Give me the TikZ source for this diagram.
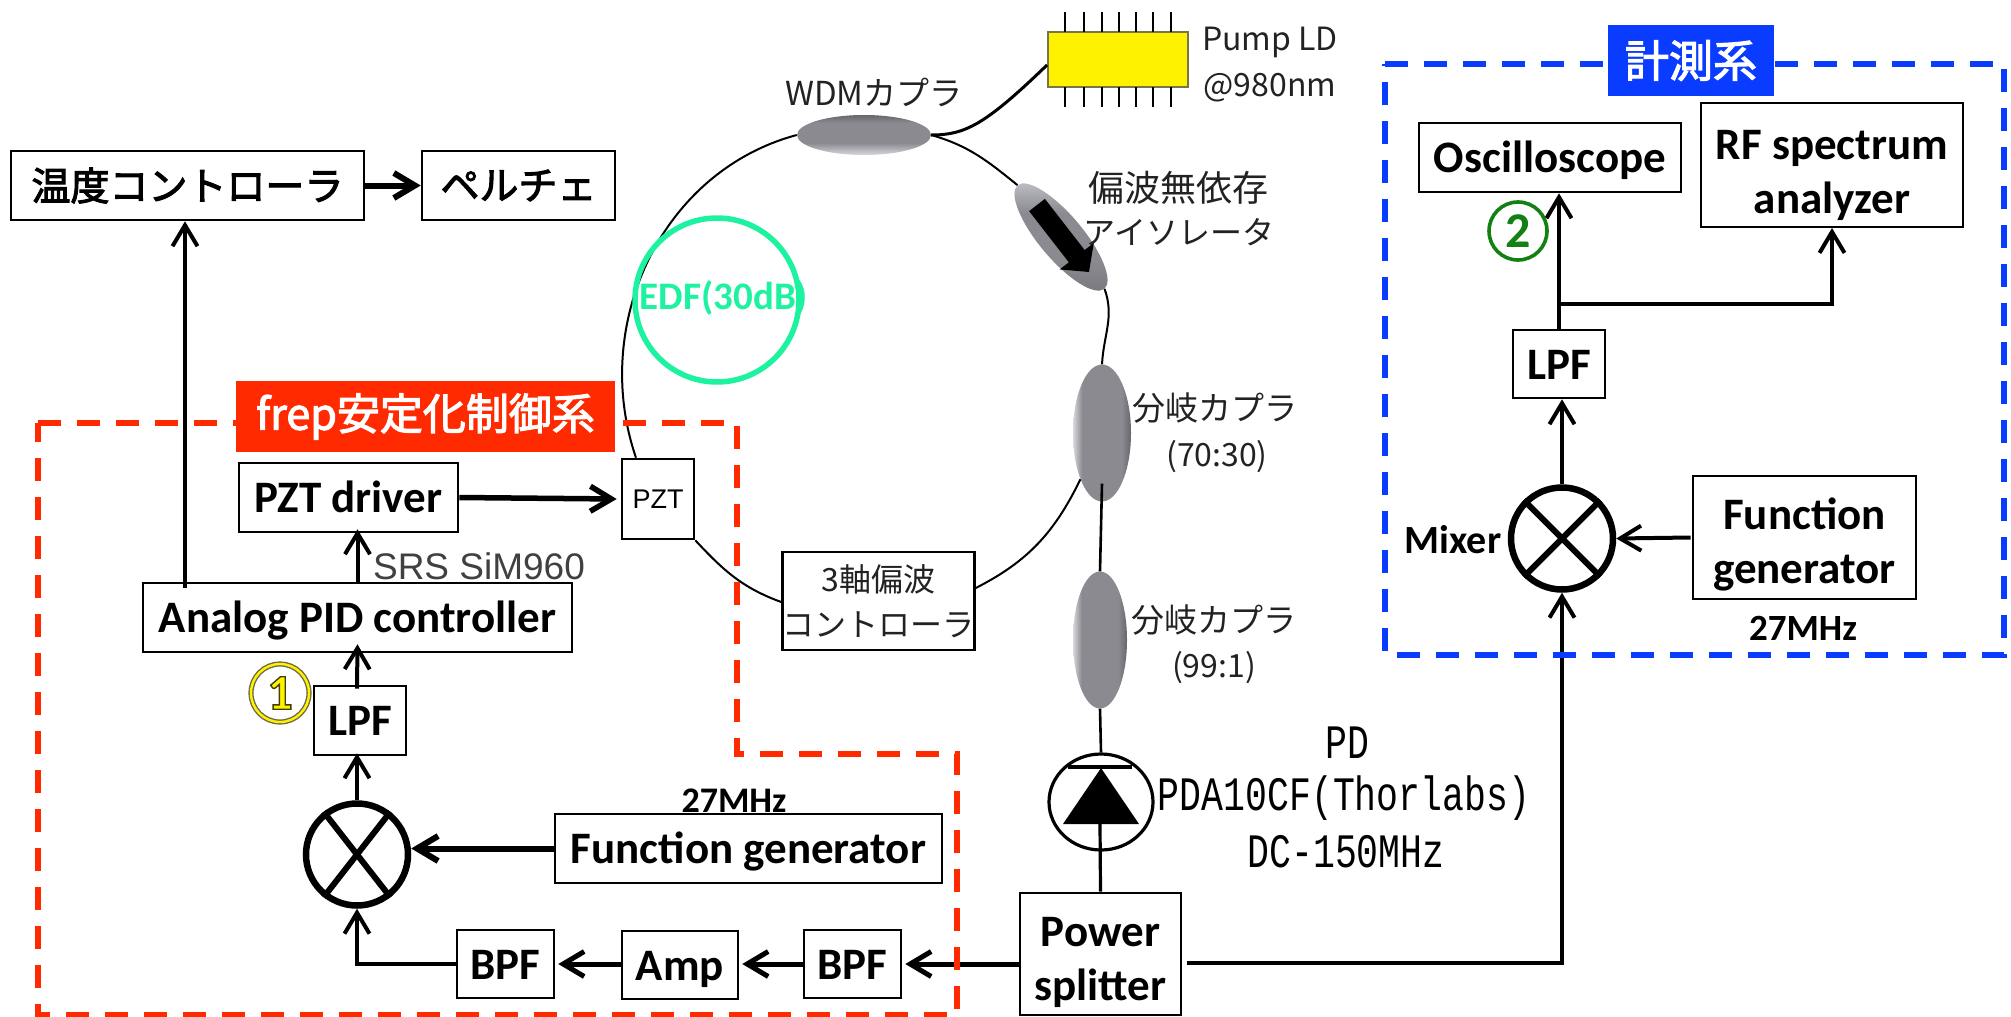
\documentclass[tikz,border=0pt]{standalone}
\usepackage{fontspec}
\usetikzlibrary{arrows.meta,shapes.geometric}
\setmainfont{Carlito}
\newfontfamily\jpf{Noto Sans CJK JP}
\newfontfamily\jpm[FakeBold=2.6]{Noto Sans CJK JP}
\newfontfamily\hvf{Liberation Sans}
\newfontfamily\pdmono[FakeStretch=0.76]{Liberation Mono}
\definecolor{redbox}{HTML}{FF2A00}
\definecolor{bluebox}{HTML}{0A3CFF}
\definecolor{edfgreen}{HTML}{1DF2A0}
\definecolor{numgreen}{HTML}{128012}
\definecolor{txtgray}{HTML}{222222}
\definecolor{cl}{HTML}{D8D8DE}
\definecolor{cg}{HTML}{8A8A90}
\definecolor{cd}{HTML}{66666C}
\definecolor{il}{HTML}{C4C4CC}
\definecolor{id}{HTML}{77777D}
\pgfdeclarehorizontalshading{cplv}{100bp}{color(0bp)=(cl); color(25bp)=(cl); color(33bp)=(cg); color(67bp)=(cg); color(75bp)=(cd); color(100bp)=(cd)}
\pgfdeclareverticalshading{cplh}{100bp}{color(0bp)=(cl); color(25bp)=(cl); color(40bp)=(cg); color(65bp)=(cg); color(75bp)=(cd); color(100bp)=(cd)}
\pgfdeclareverticalshading{cpli}{100bp}{color(0bp)=(id); color(25bp)=(id); color(40bp)=(cg); color(60bp)=(cg); color(75bp)=(il); color(100bp)=(il)}
\tikzset{
  boxn/.style={draw=black,line width=2.6pt,fill=white,inner sep=0pt,align=center},
  bt/.style={font=\bfseries\fontsize{45}{54}\selectfont,execute at begin node={\rule[-10pt]{0pt}{50pt}}},
  btwo/.style={font=\bfseries\fontsize{45}{54}\selectfont},
  jb/.style={font=\jpm\fontsize{39}{46}\selectfont},
  jl/.style={font=\jpf\fontsize{32}{40}\selectfont,text=txtgray,inner sep=0pt},
  arr/.style={line width=4pt,-{Straight Barb[length=21pt,width=25pt]}},
  arrthick/.style={line width=6pt,-{Straight Barb[length=21pt,width=25pt]}},
  plain/.style={line width=4pt},
  fibre/.style={line width=2pt,black},
  mixern/.style={draw=black,line width=6.5pt,circle,minimum size=102pt,inner sep=0pt},
  couplerv/.style={ellipse,inner sep=0pt,shading=cplv},
  couplerh/.style={ellipse,inner sep=0pt,shading=cplh},
  numcirc/.style={circle,minimum size=58pt,inner sep=0pt,font=\bfseries\fontsize{50}{50}\selectfont},
  pin/.style={line width=2pt,black}
}
\begin{document}
\begin{tikzpicture}[x=1pt,y=1pt]
\useasboundingbox (0,0) rectangle (2011,-1017);
% boxes
\node[boxn,jb,minimum width=353pt,minimum height=69pt] (temp) at (187.5,-185.5) {温度コントローラ};
\node[boxn,jb,minimum width=193pt,minimum height=69pt] (pelt) at (518.5,-185.5) {ペルチェ};
\node[boxn,bt,minimum width=429pt,minimum height=69pt] (pid) at (357.5,-617.5) {Analog PID controller};
\node[boxn,bt,minimum width=219pt,minimum height=69pt] (drv) at (348.5,-497.5) {PZT driver};
\node[boxn,font=\hvf\fontsize{27}{27}\selectfont,minimum width=72pt,minimum height=80pt] (pzt) at (658,-499) {PZT};
\node[boxn,bt,minimum width=92pt,minimum height=69pt] (lpfa) at (360,-720.5) {LPF};
\node[boxn,bt,minimum width=387pt,minimum height=69pt] (fga) at (748.5,-848.5) {Function generator};
\node[boxn,bt,minimum width=97pt,minimum height=68pt] (bpfa) at (505.5,-964) {BPF};
\node[boxn,bt,minimum width=116pt,minimum height=68pt] (amp) at (680,-965) {Amp};
\node[boxn,bt,minimum width=97pt,minimum height=68pt] (bpfb) at (852.5,-964) {BPF};
\node[boxn,btwo,minimum width=161pt,minimum height=122pt] (ps) at (1100.5,-954) {\rule{0pt}{46pt}Power\\splitter};
\node[boxn,font=\jpf\fontsize{32}{45}\selectfont,text=txtgray,minimum width=189pt,minimum height=98pt] (axis) at (878.5,-601) {3軸偏波\\コントローラ};
\node[boxn,bt,minimum width=262pt,minimum height=69pt] (osc) at (1550,-157.5) {Oscilloscope};
\node[boxn,btwo,minimum width=262pt,minimum height=124pt] (rf) at (1832,-165) {\rule{0pt}{50pt}RF spectrum\\analyzer};
\node[boxn,bt,minimum width=92pt,minimum height=68pt] (lpfb) at (1559,-364) {LPF};
\node[boxn,btwo,minimum width=223pt,minimum height=123pt] (fgb) at (1804.5,-537.5) {\rule{0pt}{46pt}Function\\generator};
% mixers
\node[mixern] (mixa) at (357,-854.5) {};
\draw[line width=6pt] (mixa.52) -- (mixa.232) (mixa.128) -- (mixa.308);
\node[mixern] (mixb) at (1562,-538.5) {};
\draw[line width=6pt] (mixb.45) -- (mixb.225) (mixb.135) -- (mixb.315);
% optical elements
\node[couplerh,minimum width=134pt,minimum height=40pt] (wdm) at (864,-135) {};
\node[ellipse,inner sep=0pt,shading=cpli,minimum width=135pt,minimum height=44pt,rotate=-50] (iso) at (1061,-237) {};
\node[couplerv,minimum width=58pt,minimum height=137pt] (cpa) at (1102,-433) {};
\node[couplerv,minimum width=54pt,minimum height=137pt] (cpb) at (1100,-640) {};
\draw[line width=20pt,-{Triangle[length=20pt,width=42pt]}] ([shift={(-24pt,32pt)}]iso.center) -- ([shift={(28pt,-35pt)}]iso.center);
% pump LD
\node[draw=black!60!yellow,line width=2pt,fill=yellow,minimum width=140pt,minimum height=55pt,inner sep=0pt] (pump) at (1118,-59.5) {};
\foreach \x in {1065,1084,1102,1119,1136,1153,1171} {
  \draw[pin] (\x,-12) -- (\x,-32);
  \draw[pin] (\x,-87) -- (\x,-107);
}
% photodiode
\node[ellipse,draw=black,line width=3.2pt,minimum width=104pt,minimum height=96pt,inner sep=0pt] (pd) at (1101,-802) {};
\draw[line width=4pt] (1068,-767) -- (1132,-767);
\fill[black] (1101,-768) -- (1139,-824) -- (1063,-824) -- cycle;
\coordinate (pdbase) at (1100,-824);
% ring fibre
\draw[fibre] (wdm.west) to[out=195,in=109] ([xshift=-22pt]pzt.north);
\draw[fibre] (pzt.south east) to[out=313,in=160] ([yshift=-1pt]axis.west);
\draw[fibre] ([yshift=13pt]axis.east) to[out=27,in=244] (cpa.245);
\draw[fibre] (cpa.north) to[out=87,in=290] (iso.east);
\draw[fibre] (iso.west) to[out=141,in=344] (wdm.east);
\draw[line width=2.6pt] ([yshift=18pt]cpa.south) -- (cpb.north);
\draw[line width=2.6pt] (cpb.south) -- (pd.north);
\draw[line width=3.2pt] (ps.north) -- (pdbase);
\draw[line width=3pt] (wdm.east) .. controls (965,-135) and (985,-125) .. ([yshift=-5.5pt]pump.west);
% electrical connectors
\draw[arrthick] (temp.east) -- (pelt.west);
\coordinate (pidtap) at (185,-588);
\draw[arr] (pidtap) -- (pidtap |- temp.south);
\draw[line width=5.5pt,-{Straight Barb[length=21pt,width=25pt]}] (drv.east) -- ([xshift=-4pt]pzt.west);
\draw[arr] (pid.north) -- ([yshift=4pt]pid.north |- drv.south);
\draw[arr] ([xshift=-3pt,yshift=-4pt]lpfa.north) -- ([yshift=9pt]pid.south);
\draw[arr] (mixa.north) -- ([yshift=3pt]mixa.north |- lpfa.south);
\draw[arrthick] ([yshift=0pt]fga.west) -- (mixa.east |- fga.west);
\draw[arr] (bpfa.west) -| (mixa.south);
\draw[line width=5pt,-{Straight Barb[length=21pt,width=25pt]}] (amp.west |- bpfa.east) -- ([xshift=3pt]bpfa.east);
\draw[line width=5pt,-{Straight Barb[length=21pt,width=25pt]}] (bpfb.west) -- ([xshift=3pt]amp.east |- bpfb.west);
\draw[line width=5pt,-{Straight Barb[length=21pt,width=25pt]}] (ps.west |- bpfb.east) -- ([xshift=3pt]bpfb.east);
\draw[arr] ([xshift=5pt,yshift=-9pt]ps.east) -| (mixb.south);
\draw[arr] (mixb.north) -- ([xshift=3pt]lpfb.south);
\draw[arr] (lpfb.north) -- (lpfb.north |- osc.south);
\coordinate (branch) at (lpfb.north |- 0,-304);
\draw[arr] (branch) -| (rf.south |- 0,-228);
\draw[arr] ([xshift=-1pt]fgb.west) -- (mixb.east);
% EDF
\node[circle,draw=edfgreen,line width=5.5pt,minimum size=164pt,inner sep=0pt] (edf) at (717,-300) {};
\node[text=edfgreen,font=\bfseries\fontsize{39}{39}\selectfont,inner sep=0pt] (ledf) at (724,-298) {EDF(30dB)};
% dashed frames
\draw[redbox,line width=5.5pt,dash pattern=on 23pt off 16pt] (38,-423) -- (737,-423) -- (737,-754) -- (957,-754) -- (957,-1015) -- (38,-1015) -- cycle;
\draw[bluebox,line width=5.5pt,dash pattern=on 23pt off 16pt] (1385,-64) -- (2004,-64) -- (2004,-655) -- (1385,-655) -- cycle;
\node[fill=redbox,text=white,font=\jpm\fontsize{43}{43}\selectfont,minimum width=379pt,minimum height=71pt,inner sep=0pt] (titlea) at (425.5,-416.5) {frep安定化制御系};
\node[fill=bluebox,text=white,font=\jpm\fontsize{44}{44}\selectfont,minimum width=166pt,minimum height=71pt,inner sep=0pt] (titleb) at (1691,-60.5) {計測系};
% labels
\node[jl,font=\jpf\fontsize{33}{33}\selectfont] (lwdm) at (874,-92) {WDMカプラ};
\node[jl] (lpump1) at (1270,-42) {Pump LD};
\node[jl] (lpump2) at (1270,-88) {@980nm};
\node[jl,font=\jpf\fontsize{36}{36}\selectfont] (liso1) at (1178,-188) {偏波無依存};
\node[jl] (liso2) at (1179,-232) {アイソレータ};
\node[jl,font=\jpf\fontsize{33}{33}\selectfont] (lcpa1) at (1215,-408) {分岐カプラ};
\node[jl,font=\jpf\fontsize{32}{32}\selectfont] (lcpa2) at (1217,-457) {(70:30)};
\node[jl,font=\jpf\fontsize{33}{33}\selectfont] (lcpb1) at (1214,-620) {分岐カプラ};
\node[jl,font=\jpf\fontsize{32}{32}\selectfont] (lcpb2) at (1214,-668) {(99:1)};
\node[font=\hvf\fontsize{37}{37}\selectfont,text=black!75,inner sep=0pt] (lsrs) at (479,-566) {SRS SiM960};
\node[font=\bfseries\fontsize{36}{36}\selectfont,inner sep=0pt] (lfa) at (734,-801) {27MHz};
\node[font=\bfseries\fontsize{37}{37}\selectfont,inner sep=0pt] (lfb) at (1803,-628) {27MHz};
\node[font=\bfseries\fontsize{40}{40}\selectfont,inner sep=0pt] (lmix) at (1453,-540) {Mixer};
\node[font=\pdmono\fontsize{48}{48}\selectfont,inner sep=0pt] (lpd1) at (1347,-743) {PD};
\node[font=\pdmono\fontsize{48}{48}\selectfont,inner sep=0pt] (lpd2) at (1344,-798) {PDA10CF(Thorlabs)};
\node[font=\pdmono\fontsize{48}{48}\selectfont,inner sep=0pt] (lpd3) at (1346,-852) {DC-150MHz};
\node[numcirc,draw=black!65!yellow,line width=1.4pt,double=yellow,double distance=2.4pt] (numa) at (280,-693) {\color{yellow}\special{pdf:code 2 Tr 1.4 w 0.25 0.25 0 RG}1\special{pdf:code 0 Tr}};
\node[numcirc,draw=numgreen,line width=3.6pt,text=numgreen] (numb) at (1518,-231) {2};
\end{tikzpicture}
\end{document}
